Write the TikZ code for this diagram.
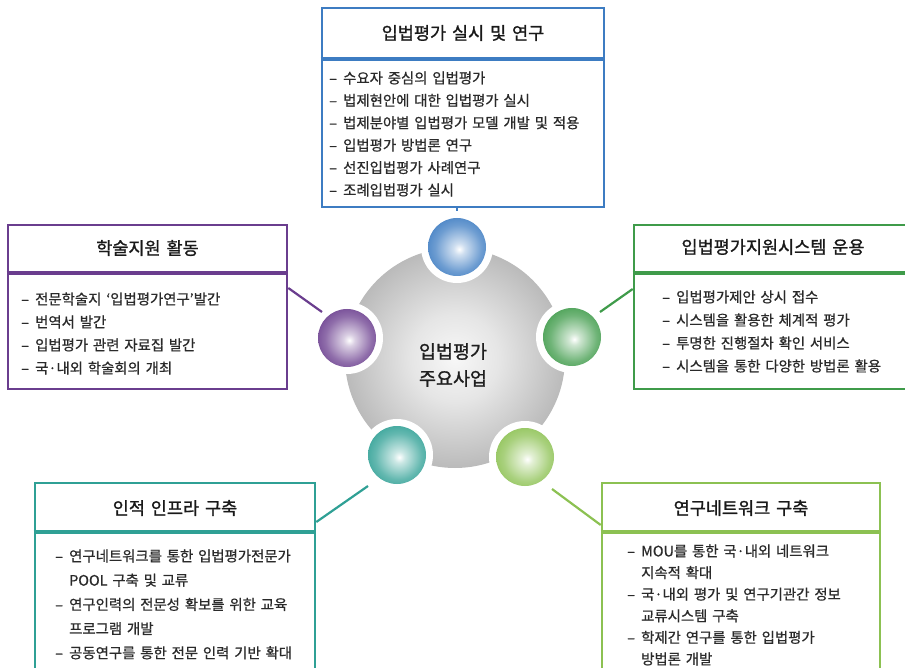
\documentclass[tikz,border=0pt]{standalone}
\usepackage{fontspec}
\newfontfamily\kr[WordSpace=1.5,FakeBold=0.7]{Noto Sans CJK KR}
\newfontfamily\krt[WordSpace=1.5,FakeBold=1.2]{Noto Sans CJK KR}
\definecolor{cblue}{HTML}{3D7CC2}
\definecolor{cpurple}{HTML}{6A3D8E}
\definecolor{cgreen}{HTML}{3F9B4A}
\definecolor{cteal}{HTML}{2FA095}
\definecolor{clime}{HTML}{8CC152}
\definecolor{txt}{HTML}{2A2A2A}
\pgfdeclareradialshading{coreshade}{\pgfpoint{0bp}{0bp}}{color(0bp)=(white!97!black); color(10bp)=(white!90!black); color(26bp)=(white!72!black); color(35bp)=(white!60!black); color(50bp)=(white!55!black)}
\pgfdeclareradialshading{ballblue}{\pgfpoint{2bp}{-2bp}}{color(0bp)=(white); color(5bp)=(cblue!25); color(20bp)=(cblue!75); color(32bp)=(cblue); color(50bp)=(cblue!80!black)}
\pgfdeclareradialshading{ballpurple}{\pgfpoint{2bp}{-2bp}}{color(0bp)=(white); color(5bp)=(cpurple!25); color(20bp)=(cpurple!75); color(32bp)=(cpurple); color(50bp)=(cpurple!80!black)}
\pgfdeclareradialshading{ballgreen}{\pgfpoint{2bp}{-2bp}}{color(0bp)=(white); color(5bp)=(cgreen!25); color(20bp)=(cgreen!75); color(32bp)=(cgreen); color(50bp)=(cgreen!80!black)}
\pgfdeclareradialshading{ballteal}{\pgfpoint{2bp}{-2bp}}{color(0bp)=(white); color(5bp)=(cteal!25); color(20bp)=(cteal!75); color(32bp)=(cteal); color(50bp)=(cteal!80!black)}
\pgfdeclareradialshading{balllime}{\pgfpoint{2bp}{-2bp}}{color(0bp)=(white); color(5bp)=(clime!25); color(20bp)=(clime!75); color(32bp)=(clime); color(50bp)=(clime!80!black)}
\newcommand\dd{\makebox[14pt][l]{–}}
\newcommand\ind{\hspace*{14pt}}
\newcommand\itemlist[5]{%
  \foreach \t [count=\i] in {#5} {\node[itemtext] (#1\i) at (#2,{#3+(\i-1)*#4}) {\t};}}
\begin{document}
\begin{tikzpicture}[x=1pt,y=-1pt,
  box/.style={draw=#1, line width=2.6pt, fill=white, rectangle, inner sep=0pt},
  divider/.style={draw=#1, line width=4.5pt},
  titletext/.style={font=\krt\fontsize{17.5}{20}\selectfont, text=black!90, inner sep=0pt},
  itemtext/.style={font=\kr\fontsize{14.4}{16}\selectfont, text=txt, anchor=west, inner sep=0pt},
  conn/.style={draw=#1, line width=2.2pt},
  ring/.style={circle, fill=white, minimum size=72pt, inner sep=0pt},
  ball/.style={circle, shade, shading=#1, minimum size=58pt, inner sep=0pt},
]
\useasboundingbox (0,0) rectangle (905,668);

% boxes
\node[box=cblue, minimum width=282pt, minimum height=199pt] (bb) at (463,107.5) {};
\draw[divider=cblue] (bb.west |- 0,59) -- (bb.east |- 0,59);
\node[titletext] (bt) at (463,33) {입법평가 실시 및 연구};
\itemlist{bi}{329}{78}{22.4}{{\dd 수요자 중심의 입법평가},{\dd 법제현안에 대한 입법평가 실시},{\dd 법제분야별 입법평가 모델 개발 및 적용},{\dd 입법평가 방법론 연구},{\dd 선진입법평가 사례연구},{\dd 조례입법평가 실시}}

\node[box=cpurple, minimum width=279pt, minimum height=164pt] (pb) at (147.5,307) {};
\draw[divider=cpurple] (pb.west |- 0,273) -- (pb.east |- 0,273);
\node[titletext] (pt) at (147.5,248) {학술지원 활동};
\itemlist{pi}{21}{299}{23}{{\dd 전문학술지 ‘입법평가연구’발간},{\dd 번역서 발간},{\dd 입법평가 관련 자료집 발간},{\dd 국·내외 학술회의 개최}}

\node[box=cgreen, minimum width=276pt, minimum height=164pt] (gb) at (772,307) {};
\draw[divider=cgreen] (gb.west |- 0,273) -- (gb.east |- 0,273);
\node[titletext] (gt) at (773,247) {입법평가지원시스템 운용};
\itemlist{gi}{662}{297}{23}{{\dd 입법평가제안 상시 접수},{\dd 시스템을 활용한 체계적 평가},{\dd 투명한 진행절차 확인 서비스},{\dd 시스템을 통한 다양한 방법론 활용}}

\node[box=cteal, minimum width=280pt, minimum height=195pt] (tb) at (175,580.5) {};
\draw[divider=cteal] (tb.west |- 0,532) -- (tb.east |- 0,532);
\node[titletext] (tt) at (175,508) {인적 인프라 구축};
\itemlist{ti}{55}{556}{24.2}{{\dd 연구네트워크를 통한 입법평가전문가},{\ind POOL 구축 및 교류},{\dd 연구인력의 전문성 확보를 위한 교육},{\ind 프로그램 개발},{\dd 공동연구를 통한 전문 인력 기반 확대}}

\node[box=clime, minimum width=278pt, minimum height=195pt] (lb) at (741,580.5) {};
\draw[divider=clime] (lb.west |- 0,532) -- (lb.east |- 0,532);
\node[titletext] (lt) at (741,508) {연구네트워크 구축};
\itemlist{li}{627}{551}{21.6}{{\dd MOU를 통한 국·내외 네트워크},{\ind 지속적 확대},{\dd 국·내외 평가 및 연구기관간 정보},{\ind 교류시스템 구축},{\dd 학제간 연구를 통한 입법평가},{\ind 방법론 개발}}

% core
\node[circle, shade, shading=coreshade, minimum size=220pt, inner sep=0pt] (core) at (455,358) {};
\node[font=\krt\fontsize{18.5}{27}\selectfont, align=center, text=black!88, inner sep=0pt] (coretext) at (453,365) {입법평가\\주요사업};

% rings and balls
\node[ring] (r1) at (457,247) {};
\node[ring] (r2) at (347,338) {};
\node[ring] (r3) at (572,337) {};
\node[ring] (r4) at (397,455) {};
\node[ring] (r5) at (525,457) {};
\node[ball=ballblue] (b1) at (457,247) {};
\node[ball=ballpurple] (b2) at (347,338) {};
\node[ball=ballgreen] (b3) at (572,337) {};
\node[ball=ballteal] (b4) at (397,455) {};
\node[ball=balllime] (b5) at (525,457) {};

% connectors
\coordinate (pe) at (322,312);
\coordinate (ge) at (600,312);
\coordinate (te) at (368,486);
\coordinate (le) at (552,489);
\draw[conn=cblue] (bb.south -| b1) -- (r1.north);
\draw[conn=cpurple] (pb.east |- 0,288) -- (pe);
\draw[conn=cgreen] (gb.west |- 0,289) -- (ge);
\draw[conn=cteal] (tb.east |- 0,522) -- (te);
\draw[conn=clime] (lb.west |- 0,525) -- (le);
\end{tikzpicture}
\end{document}
